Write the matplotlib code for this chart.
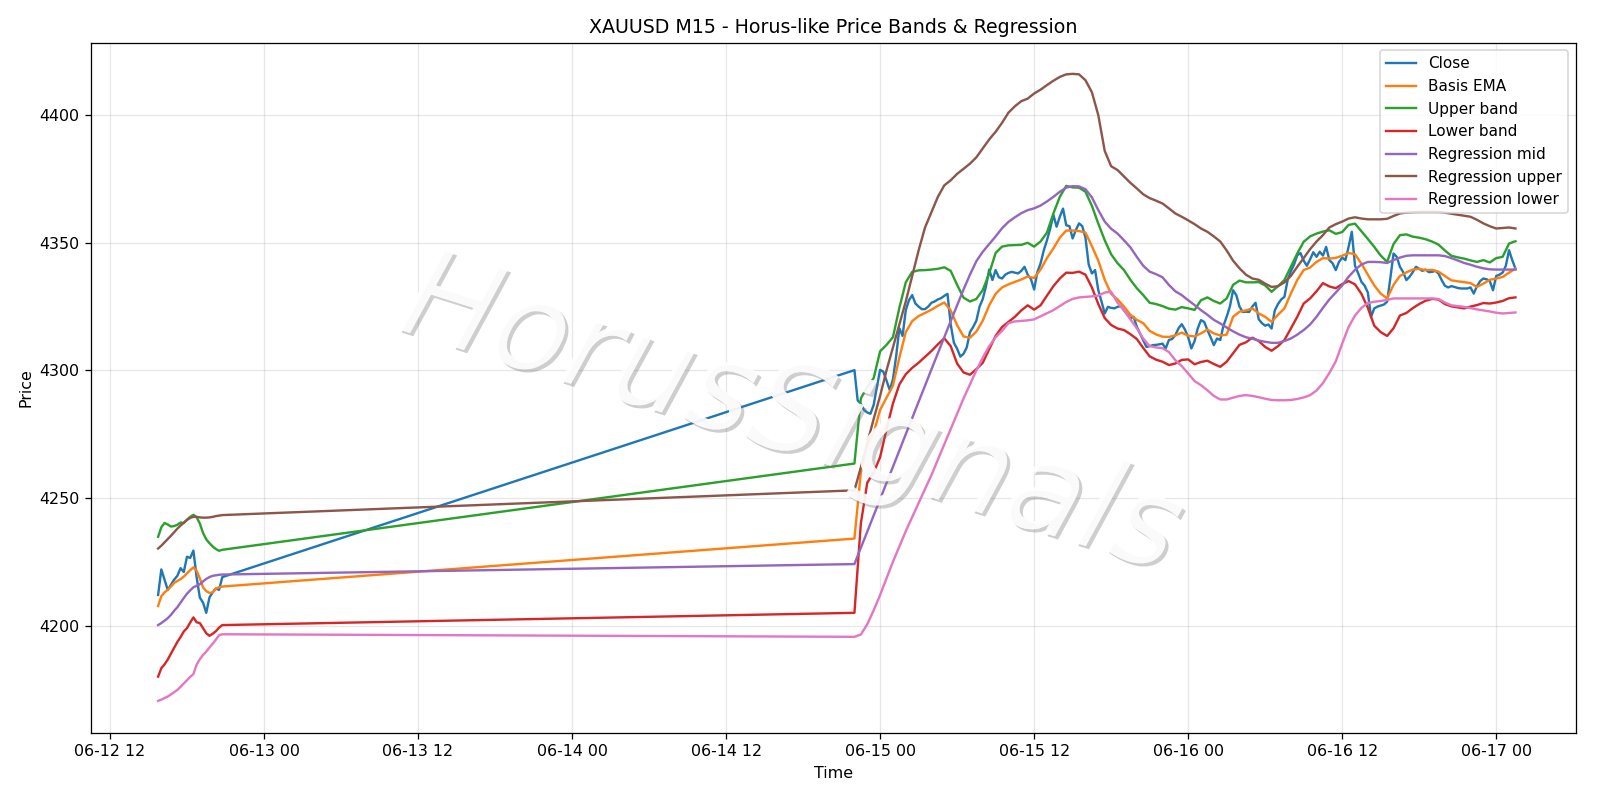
import numpy as np
import pandas as pd
import matplotlib
matplotlib.use("Agg")
import matplotlib.pyplot as plt
import matplotlib.dates as mdates
import matplotlib.patheffects as pe

# --- Friday session (06-12), 15-minute bars ---
close1 = [4212, 4222, 4218, 4214, 4216, 4218, 4219.5, 4222.5, 4221, 4227, 4226.5,
          4229.4, 4219, 4211, 4209, 4205, 4211, 4213, 4214.5, 4214, 4219]
ema1 = [4207.7, 4211.5, 4213, 4214, 4215.3, 4216.7, 4217.5, 4218.2, 4219.2, 4220.5, 4221.7,
        4222.8, 4221.5, 4218.5, 4215, 4213.5, 4212.8, 4213, 4214.5, 4215, 4215.3]
upper1 = [4234.8, 4238.5, 4240.2, 4239.6, 4238.8, 4239, 4239.5, 4240.4, 4240.2, 4241.5, 4242.6,
          4243.4, 4242.5, 4240, 4236.3, 4233.8, 4232.3, 4231, 4230, 4229.3, 4229.7]
lower1 = [4180, 4183.3, 4184.8, 4186.7, 4189, 4191.3, 4193.6, 4195.5, 4197.7, 4199, 4201.2,
          4203.2, 4201.3, 4201, 4199, 4197, 4196, 4196.8, 4197.8, 4199.2, 4200.2]
reg_mid1 = [4200.2, 4201, 4201.9, 4202.9, 4204.2, 4205.8, 4207.2, 4209, 4210.8, 4212.5, 4213.8,
            4215, 4215.6, 4216.2, 4217.3, 4218.3, 4219, 4219.5, 4219.7, 4219.9, 4220]
reg_up1 = [4230.2, 4231.3, 4232.6, 4233.9, 4235.2, 4236.6, 4238, 4239.2, 4240.3, 4241.4, 4242.2,
           4242.6, 4242.6, 4242.4, 4242.3, 4242.3, 4242.4, 4242.6, 4242.9, 4243.1, 4243.3]
reg_lo1 = [4170.5, 4171, 4171.6, 4172.2, 4173, 4173.9, 4174.8, 4176, 4177.3, 4178.6, 4179.9,
           4181, 4184.7, 4186.8, 4188.5, 4189.8, 4191.4, 4192.9, 4194.5, 4196.2, 4196.6]

# --- from Sunday open (06-14 22:00): close every 15 min, one row per hour ---
close2 = [
    4300.1, 4288.3, 4286.8, 4284.5,
    4283.5, 4283, 4286.5, 4293.5,
    4300.2, 4299.5, 4296, 4292.3,
    4296.5, 4305.5, 4316.5, 4313.5,
    4323.6, 4327.5, 4329.5, 4326.2,
    4325, 4324, 4324, 4325,
    4326.5, 4327, 4327.8, 4328.3,
    4329.2, 4330, 4318, 4310.8,
    4308.5, 4305.4, 4306.5, 4309,
    4315, 4317, 4319.5, 4325,
    4328, 4333, 4339.5, 4335.4,
    4339.3, 4336.5, 4336, 4337.5,
    4338.2, 4338.6, 4338.3, 4338,
    4339, 4340.6, 4337.5, 4335.8,
    4331.7, 4338.5, 4341.9, 4347,
    4351, 4355.5, 4361, 4356.3,
    4360.2, 4363.4, 4356.9, 4356.5,
    4351.7, 4355, 4357.6, 4356.5,
    4352, 4341.5, 4338, 4339.3,
    4331.4, 4327, 4322.3, 4324.9,
    4324.5, 4324.3, 4324.9, 4325.2,
    4323.5, 4322, 4320.4, 4321,
    4317.1, 4314.5, 4312, 4309.2,
    4309.5, 4309.9, 4310, 4310.2,
    4310.5, 4308.6, 4311.9, 4312.3,
    4313.8, 4316.5, 4318.1, 4316,
    4313, 4308.6, 4311.5, 4316.5,
    4319.7, 4319, 4315.8, 4313,
    4309.9, 4312.5, 4311.9, 4317.5,
    4321, 4325, 4331.4, 4329.5,
    4325, 4322.9, 4323, 4322.9,
    4325, 4326.5, 4320, 4318.5,
    4317.5, 4318, 4316.4, 4323.5,
    4326, 4327.8, 4328.8, 4335.4,
    4338.8, 4341.5, 4345.1, 4346,
    4343, 4341, 4343.5, 4346.3,
    4344.5, 4346.5, 4345, 4348.4,
    4343.2, 4342, 4339.3, 4342.5,
    4344.2, 4343.2, 4348.4, 4354.3,
    4341, 4338, 4334.7, 4333.2,
    4330.5, 4321, 4324.3, 4325,
    4325.4, 4325.8, 4326.9, 4336,
    4345.8, 4344.5, 4340.6, 4338.5,
    4335.4, 4336.7, 4338.5, 4340.6,
    4339.8, 4339, 4339.5, 4338.5,
    4338.6, 4339, 4338, 4335.4,
    4333.2, 4332.5, 4333, 4332.7,
    4332.3, 4332.1, 4332.1, 4332.1,
    4332.5, 4330.1, 4333, 4335,
    4336, 4335.7, 4335, 4331.4,
    4337, 4337.5, 4338.3, 4341,
    4347.1, 4343.2, 4339.9,
]

# smoother lines read every 30 min, one row per 2 hours
ema2 = [
    4234.1, 4260, 4270.7, 4275.5,
    4284.5, 4289.3, 4294, 4305,
    4315, 4319.3, 4321.3, 4322.5,
    4323.8, 4325.3, 4326.6, 4323.5,
    4317.7, 4313.3, 4312.8, 4315.2,
    4319.5, 4325.5, 4330, 4332.5,
    4333.7, 4334.7, 4335.6, 4336.8,
    4336.2, 4339.5, 4344, 4347.8,
    4352, 4354.8, 4354.8, 4354.6,
    4354, 4348.7, 4343, 4335.5,
    4330, 4327.8, 4325, 4321.8,
    4319.8, 4318.5, 4315.5, 4314.1,
    4313.2, 4313.1, 4313.7, 4314.8,
    4313.6, 4313.3, 4314.5, 4316,
    4314.5, 4313.7, 4314, 4321,
    4323, 4323.5, 4324.3, 4322.3,
    4321, 4319, 4321.8, 4324.3,
    4330.1, 4335.4, 4339.3, 4340.3,
    4342.5, 4344, 4343.8, 4344.1,
    4344.9, 4346, 4345.5, 4341.8,
    4337.5, 4333.3, 4330.1, 4328.2,
    4333.5, 4337, 4338.4, 4339.5,
    4339.8, 4339.3, 4339.4, 4338.7,
    4337, 4335.3, 4334.9, 4334.6,
    4334.2, 4332.7, 4334, 4335.5,
    4336, 4336.6, 4338.3, 4339.9,
]
upper2 = [
    4263.5, 4289, 4293.6, 4297,
    4307.5, 4310, 4313, 4324.5,
    4334.5, 4338.6, 4339.2, 4339.3,
    4339.5, 4339.8, 4340.4, 4339,
    4333.5, 4328.5, 4327, 4328,
    4331.5, 4338, 4346, 4348.5,
    4349, 4349.1, 4349.2, 4350,
    4348.5, 4350.5, 4354, 4361.5,
    4368, 4372.3, 4371.7, 4371.6,
    4370, 4364.5, 4357.5, 4351,
    4345.5, 4342, 4339.3, 4335.5,
    4332.2, 4329.5, 4326.5, 4326,
    4325.2, 4324.2, 4323.8, 4324.8,
    4324.3, 4323.7, 4327.5, 4328.6,
    4327.2, 4326.2, 4328.2, 4333.5,
    4335.2, 4334.5, 4334.5, 4334.6,
    4333.3, 4330.8, 4333, 4335.4,
    4340.6, 4345.8, 4350.4, 4352.5,
    4353.6, 4354.4, 4354.9, 4353.5,
    4354.2, 4357, 4357.5, 4354.5,
    4351.5, 4348.4, 4345, 4342.5,
    4349.5, 4353, 4353.3, 4352.4,
    4352, 4351.4, 4350.5, 4349.3,
    4347, 4344.9, 4344.3, 4343.8,
    4343.1, 4342.5, 4343.2, 4342.3,
    4344, 4344.5, 4349.7, 4350.6,
]
lower2 = [
    4205, 4240, 4256, 4260,
    4266, 4277, 4287, 4294.5,
    4298.5, 4301, 4303, 4305.3,
    4307.6, 4310.2, 4312.6, 4309.5,
    4302.7, 4299.2, 4298.3, 4300.5,
    4303, 4308.3, 4313.5, 4317,
    4319, 4321, 4323.5, 4325.5,
    4323.8, 4325.5, 4329.3, 4333,
    4336, 4338.3, 4338.2, 4338.7,
    4337.5, 4332.5, 4326, 4320.5,
    4317.8, 4316.4, 4315.8, 4314.2,
    4312.3, 4308.8, 4305.5, 4304.2,
    4303.4, 4302.1, 4302.7, 4304.1,
    4304.3, 4302.4, 4303.3, 4303.8,
    4302.5, 4301.4, 4303.4, 4306.7,
    4310, 4311, 4312.8, 4311.5,
    4309.2, 4307.7, 4309.5, 4311.9,
    4316.4, 4321, 4326.2, 4328.2,
    4331, 4334.2, 4332.9, 4332.2,
    4333.8, 4335, 4333.7, 4330,
    4324.5, 4317.5, 4315, 4313.5,
    4316.5, 4321.5, 4322.5, 4324.4,
    4326, 4327.3, 4328, 4327.8,
    4326, 4325.1, 4324.7, 4324.3,
    4325, 4325.6, 4326.4, 4326.2,
    4326.6, 4327.2, 4328.3, 4328.6,
]
reg_mid2 = [
    4224.1, 4230.5, 4236.8, 4243.2,
    4249.5, 4255.9, 4262.2, 4268.6,
    4275, 4281.3, 4287.7, 4294,
    4300.4, 4306.7, 4313, 4319.3,
    4325.5, 4331.7, 4337.5, 4342.8,
    4346.5, 4349.5, 4352.5, 4355.7,
    4358.2, 4360, 4361.6, 4362.8,
    4363.5, 4364.6, 4366.2, 4368,
    4370, 4371.6, 4372.2, 4372.1,
    4371, 4367.8, 4362.8, 4358.3,
    4355.5, 4353.6, 4351, 4348.2,
    4344.5, 4341, 4338.7, 4337.7,
    4336.5, 4333.5, 4331, 4329.5,
    4327.5, 4325.6, 4323.6, 4321.8,
    4319.8, 4318.4, 4316.8, 4315.3,
    4314, 4313, 4312.4, 4311.7,
    4311.2, 4310.8, 4310.8, 4311.5,
    4312.5, 4314, 4315.8, 4318,
    4321, 4324.5, 4327.8, 4330.5,
    4333.3, 4336.7, 4339.4, 4341.5,
    4342.5, 4342.5, 4342.4, 4342.1,
    4343.2, 4344.2, 4344.9, 4345.1,
    4345.1, 4345.1, 4345.1, 4345.1,
    4344.8, 4344, 4343.1, 4342.1,
    4341.4, 4340.6, 4340, 4339.6,
    4339.5, 4339.5, 4339.5, 4339.5,
]
reg_up2 = [
    4253, 4262, 4271.5, 4281,
    4290, 4300, 4309, 4318,
    4327, 4337, 4347, 4356,
    4362, 4368, 4372.5, 4374.5,
    4377, 4379, 4381, 4383.5,
    4387, 4390.5, 4393.5, 4397,
    4401, 4403.5, 4405.5, 4406.5,
    4408.5, 4410, 4411.8, 4413.5,
    4415, 4416, 4416.2, 4416,
    4413.7, 4409, 4400, 4386,
    4380, 4378.5, 4376, 4373.5,
    4371.3, 4369, 4367.5, 4366.5,
    4365.4, 4363.5, 4361.5, 4360.2,
    4358.8, 4357.3, 4355.6, 4354.3,
    4352.5, 4350.5, 4347, 4343,
    4340, 4337.5, 4336, 4335.5,
    4334, 4332.7, 4333, 4334.5,
    4337, 4340.6, 4344, 4347.5,
    4350.5, 4353, 4356, 4357.3,
    4358.3, 4359.5, 4360, 4359.5,
    4359.2, 4359.2, 4359.2, 4359.4,
    4360.5, 4361.5, 4361.8, 4362,
    4362.1, 4362.1, 4362.1, 4362.1,
    4361.8, 4361.4, 4361, 4360.6,
    4360.2, 4359, 4357.6, 4356.5,
    4355.6, 4355.8, 4356, 4355.6,
]
reg_lo2 = [
    4195.6, 4196.5, 4200.5, 4206,
    4212, 4218.5, 4225, 4231,
    4237, 4242.5, 4248, 4253.5,
    4259, 4265, 4271, 4277,
    4283, 4289, 4294.5, 4300,
    4305, 4309.5, 4313, 4315.5,
    4318.5, 4319.2, 4319.4, 4319.6,
    4320, 4321.2, 4322.4, 4323.6,
    4325.2, 4326.8, 4328, 4328.6,
    4328.8, 4329, 4329.3, 4330.5,
    4330.8, 4326.5, 4323.6, 4320,
    4316.5, 4312.5, 4309.5, 4309,
    4308.7, 4307.2, 4304, 4301.7,
    4298.8, 4295.8, 4294.2, 4292.2,
    4290, 4288.6, 4288.6, 4289.3,
    4290, 4290.3, 4290, 4289.5,
    4288.9, 4288.4, 4288.3, 4288.3,
    4288.4, 4288.8, 4289.4, 4290.3,
    4292.1, 4295, 4299, 4303.5,
    4310.5, 4317, 4321.5, 4324.5,
    4326.4, 4326.9, 4327.2, 4327.6,
    4328.2, 4328.2, 4328.2, 4328.2,
    4328.2, 4328.2, 4328.2, 4328,
    4326.6, 4325.5, 4325.2, 4324.9,
    4324.4, 4323.9, 4323.5, 4323.1,
    4322.6, 4322.3, 4322.5, 4322.7,
]

t1 = pd.date_range("2025-06-12 15:45", periods=len(close1), freq="15min")
t2_close = pd.date_range("2025-06-14 22:00", periods=len(close2), freq="15min")
t2 = pd.date_range("2025-06-14 22:00", periods=len(ema2), freq="30min")
t_close = t1.append(t2_close)
t_all = t1.append(t2)

series = [
    ("Close", close1 + close2, t_close),
    ("Basis EMA", ema1 + ema2, t_all),
    ("Upper band", upper1 + upper2, t_all),
    ("Lower band", lower1 + lower2, t_all),
    ("Regression mid", reg_mid1 + reg_mid2, t_all),
    ("Regression upper", reg_up1 + reg_up2, t_all),
    ("Regression lower", reg_lo1 + reg_lo2, t_all),
]

fig, ax = plt.subplots(figsize=(14, 7), dpi=800 / 7)
fig.subplots_adjust(left=0.0567, right=0.985, bottom=0.0834, top=0.9466)

for i, (name, vals, tt) in enumerate(series):
    ax.plot(tt, vals, color=f"C{i}", lw=1.5, label=name)

ax.set_xlim(pd.Timestamp("2025-06-12 10:30"), pd.Timestamp("2025-06-17 06:13"))
ax.set_ylim(4157.8, 4428.4)
ax.xaxis.set_major_locator(mdates.HourLocator(byhour=[0, 12]))
ax.xaxis.set_major_formatter(mdates.DateFormatter("%m-%d %H"))
ax.grid(True, alpha=0.3)
ax.set_title("XAUUSD M15 - Horus-like Price Bands & Regression")
ax.set_xlabel("Time")
ax.set_ylabel("Price")
ax.legend(loc="upper right", fontsize=9.6)

# watermark
fig.text(0.494, 0.479, "HorusSignals", fontsize=78, rotation=-17.5, style="italic",
         ha="center", va="center", color="white", alpha=0.7,
         path_effects=[pe.withSimplePatchShadow(offset=(2, -2), shadow_rgbFace="0.45", alpha=0.35),
                       pe.Normal()])

fig.savefig("out.png", dpi=800 / 7)
